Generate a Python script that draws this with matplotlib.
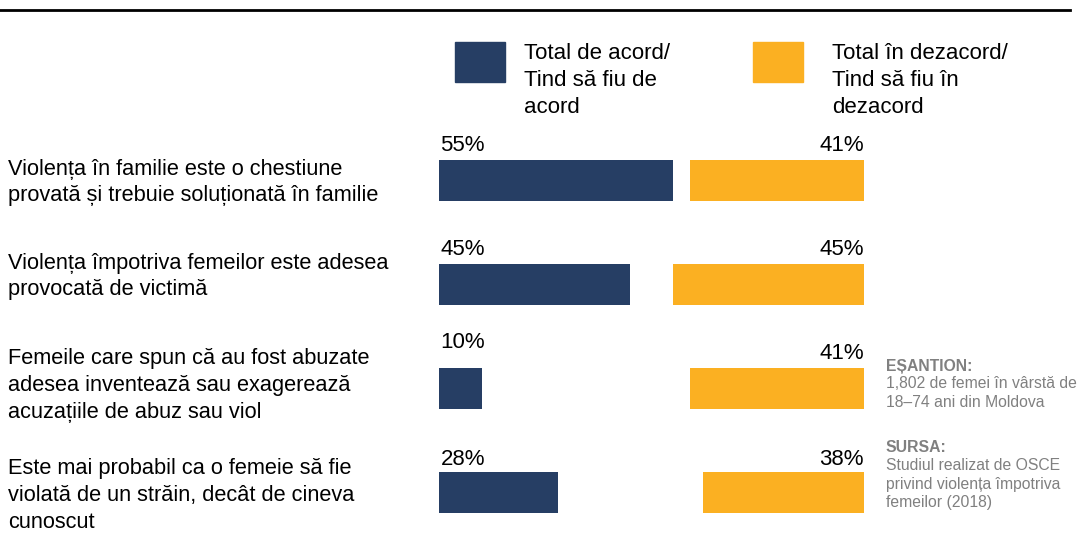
import matplotlib
matplotlib.use("Agg")
import matplotlib.pyplot as plt
from matplotlib.patches import Rectangle

plt.rcParams["font.family"] = ["Liberation Sans", "DejaVu Sans"]

# data
statements = [
    "Violența în familie este o chestiune\nprovată și trebuie soluționată în familie",
    "Violența împotriva femeilor este adesea\nprovocată de victimă",
    "Femeile care spun că au fost abuzate\nadesea inventează sau exagerează\nacuzațiile de abuz sau viol",
    "Este mai probabil ca o femeie să fie\nviolată de un străin, decât de cineva\ncunoscut",
]
agree = [55, 45, 10, 28]
disagree = [41, 45, 41, 38]
legend_labels = ["Total de acord/\nTind să fiu de\nacord", "Total în dezacord/\nTind să fiu în\ndezacord"]

navy = "#263E64"
orange = "#FBB022"
grey = "#808080"

W, H = 1078, 539
fig = plt.figure(figsize=(W / 100, H / 100), dpi=100)

# top rule
fig.add_artist(plt.Line2D([0, 1070 / W], [1 - 10 / H, 1 - 10 / H], color="black", lw=2))

# main axes: 0-100 scale, navy from left, orange anchored at right
top_px, unit_px = 128.5, 104
ax = fig.add_axes([439 / W, 1 - (top_px + 4 * unit_px) / H, 425 / W, 4 * unit_px / H])
ax.set_xlim(0, 100)
ax.set_ylim(3.5, -0.5)
ax.axis("off")

y = range(len(agree))
bh = 41 / unit_px
ax.barh(y, agree, height=bh, color=navy)
ax.barh(y, disagree, left=[100 - d for d in disagree], height=bh, color=orange)

navy_pad = [4, 4, 15, 2]
orange_pad = [4, 4, 4, 2]
for i in y:
    ax.annotate(f"{agree[i]}%", (0, i - bh / 2), xytext=(1, navy_pad[i] * 0.72),
                textcoords="offset points", ha="left", va="bottom", fontsize=16)
    ax.annotate(f"{disagree[i]}%", (100, i - bh / 2), xytext=(0, orange_pad[i] * 0.72),
                textcoords="offset points", ha="right", va="bottom", fontsize=16)

# category labels on the left
text_off = [2, -8, -3, 3]
for i, s in enumerate(statements):
    yc = top_px + unit_px * (i + 0.5) + text_off[i]
    fig.text(8 / W, 1 - yc / H, s, ha="left", va="center", fontsize=15.7, linespacing=1.35)

# legend
for (x0, tx), lab, col in zip([(455, 524), (753, 832)], legend_labels, [navy, orange]):
    fig.add_artist(Rectangle((x0 / W, 1 - 82 / H), 50 / W, 40 / H, color=col,
                             transform=fig.transFigure))
    fig.text(tx / W, 1 - 43 / H, lab, ha="left", va="top", fontsize=16, linespacing=1.38)

# notes
fig.text(886 / W, 1 - 366 / H, "EȘANTION:", ha="left", va="center", fontsize=11.3,
         fontweight="bold", color=grey)
fig.text(886 / W, 1 - 376 / H, "1,802 de femei în vârstă de\n18–74 ani din Moldova",
         ha="left", va="top", fontsize=11.3, color=grey, linespacing=1.3)
fig.text(886 / W, 1 - 448 / H, "SURSA:", ha="left", va="center", fontsize=11.3,
         fontweight="bold", color=grey)
fig.text(886 / W, 1 - 458 / H, "Studiul realizat de OSCE\nprivind violența împotriva\nfemeilor (2018)",
         ha="left", va="top", fontsize=11.3, color=grey, linespacing=1.3)

fig.savefig("out.png", dpi=100)
